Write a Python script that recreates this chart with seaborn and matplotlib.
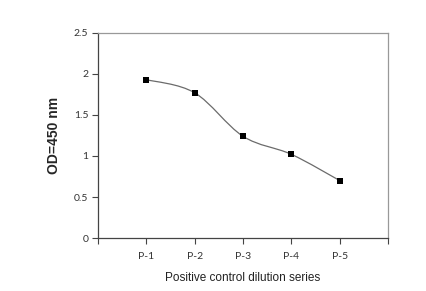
import numpy as np
import pandas as pd
import matplotlib
matplotlib.use("Agg")
import matplotlib.pyplot as plt
from matplotlib.path import Path
from matplotlib.patches import PathPatch
import seaborn as sns

# ── data ────────────────────────────────────────────────────────────────────
samples = ["P-1", "P-2", "P-3", "P-4", "P-5"]
od450 = [1.93, 1.77, 1.24, 1.02, 0.70]
y_ticks = [0, 0.5, 1, 1.5, 2, 2.5]
y_tick_labels = ["0", "0.5", "1", "1.5", "2", "2.5"]

df = pd.DataFrame({"pos": np.arange(1, len(samples) + 1), "od": od450})

sns.set_style("white")
plt.rcParams["font.family"] = ["Liberation Sans", "DejaVu Sans"]

fig = plt.figure(figsize=(4.26, 2.91), dpi=100)
ax = fig.add_axes([0.230, 0.182, 0.681, 0.705])

# smoothed connecting line (Excel-style Catmull-Rom as cubic Bezier)
x = df["pos"].to_numpy(dtype=float)
y = df["od"].to_numpy(dtype=float)
verts = [(x[0], y[0])]
codes = [Path.MOVETO]
t = 1 / 6
for i in range(len(x) - 1):
    p0 = (x[i - 1], y[i - 1]) if i > 0 else (x[i], y[i])
    p3 = (x[i + 2], y[i + 2]) if i + 2 < len(x) else (x[i + 1], y[i + 1])
    c1 = (x[i] + (x[i + 1] - p0[0]) * t, y[i] + (y[i + 1] - p0[1]) * t)
    c2 = (x[i + 1] - (p3[0] - x[i]) * t, y[i + 1] - (p3[1] - y[i]) * t)
    verts += [c1, c2, (x[i + 1], y[i + 1])]
    codes += [Path.CURVE4] * 3
ax.add_patch(PathPatch(Path(verts, codes), facecolor="none",
                       edgecolor="#6b6b6b", lw=0.9, zorder=2))

sns.scatterplot(data=df, x="pos", y="od", ax=ax, marker="s", s=18,
                color="black", edgecolor="black", linewidth=0, zorder=3)

ax.set_xlim(0, 6)
ax.set_ylim(0, 2.5)
ax.set_xticks(range(0, 7))
ax.set_xticklabels([""] + samples + [""])
ax.set_yticks(y_ticks)
ax.set_yticklabels(y_tick_labels)

for lbl in ax.get_xticklabels() + ax.get_yticklabels():
    lbl.set_family(["Lato", "DejaVu Sans"])
    lbl.set_fontsize(7.5)
    lbl.set_color("#333333")

ax.tick_params(axis="both", which="major", direction="out", length=4,
               width=0.8, color="#444444", bottom=True, left=True, pad=3)
ax.tick_params(axis="x", pad=6)

for side in ["left", "bottom"]:
    ax.spines[side].set_color("#444444")
    ax.spines[side].set_linewidth(0.9)
for side in ["top", "right"]:
    ax.spines[side].set_color("#999999")
    ax.spines[side].set_linewidth(0.9)

ax.set_xlabel("Positive control dilution series", fontsize=8.5,
              color="#222222", labelpad=8)
ax.set_ylabel("OD=450 nm", fontsize=10, fontweight="bold", labelpad=9)

fig.savefig("out.png", dpi=100)
